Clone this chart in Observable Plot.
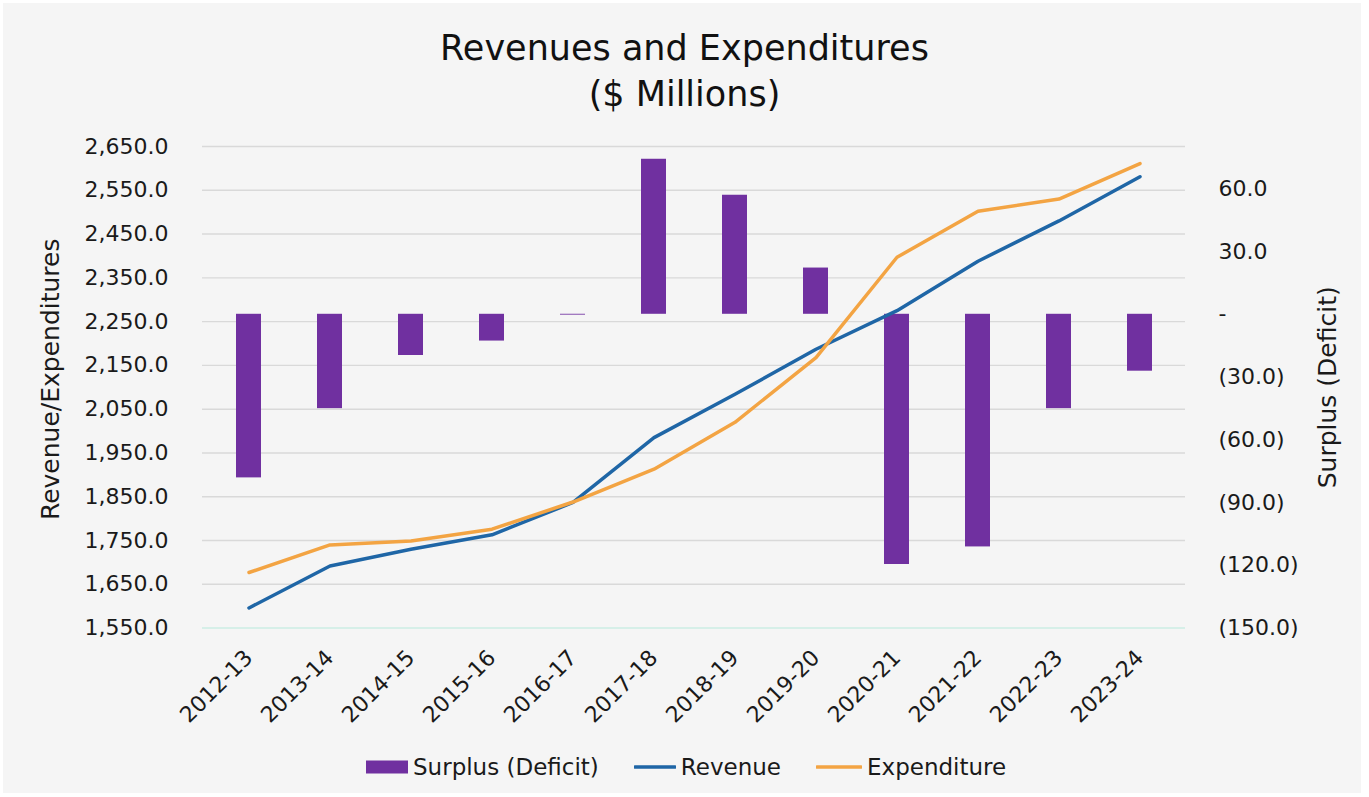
<!DOCTYPE html>
<html>
<head>
<meta charset="utf-8">
<script src="https://cdn.jsdelivr.net/npm/d3@7"></script>
<script src="https://cdn.jsdelivr.net/npm/@observablehq/plot@0.6"></script>
<style>
  html, body { margin: 0; padding: 0; background: #ffffff; }
  body { width: 1369px; height: 797px; position: relative; overflow: hidden; font-family: "DejaVu Sans", sans-serif; color: #1a1a1a; }
  #frame { position: absolute; left: 3px; top: 3px; width: 1358px; height: 790px; background: #f5f5f5; }
  #title { position: absolute; left: 0; top: 25px; width: 1369px; text-align: center; font-size: 35px; line-height: 46px; color: #111; }
  #chart { position: absolute; left: 0; top: 120px; }
  #legend { position: absolute; left: 366px; top: 752px; height: 30px; display: flex; align-items: center; font-size: 23px; color: #1a1a1a; }
  .item { display: flex; align-items: center; margin-right: 35px; }
  .sw { margin-right: 5px; }
</style>
</head>
<body>
<div id="frame"></div>
<div id="title">Revenues and Expenditures<br>($ Millions)</div>
<div id="chart"></div>
<div id="legend"></div>
<script>
// ---- data ----
const years = ["2012-13","2013-14","2014-15","2015-16","2016-17","2017-18","2018-19","2019-20","2020-21","2021-22","2022-23","2023-24"];
const surplus = [-78.2, -45.1, -19.7, -12.8, -0.4, 74.1, 56.9, 22.1, -119.6, -111.2, -45.1, -27.2];
const revenue = [1596, 1692, 1730, 1763, 1837, 1985, 2084, 2187, 2275, 2388, 2480, 2581];
const expenditure = [1677, 1740, 1749, 1776, 1838, 1913, 2020, 2168, 2397, 2502, 2530, 2611];
const leftTicks = [1550, 1650, 1750, 1850, 1950, 2050, 2150, 2250, 2350, 2450, 2550, 2650];
const rightTicks = [-150, -120, -90, -60, -30, 0, 30, 60];
const leftDomain = [1550, 2650];
const rightDomain = [-150, 80.2];
const seriesNames = ["Surplus (Deficit)", "Revenue", "Expenditure"];
const colors = {bar: "#7030a0", revenue: "#1f66a6", expenditure: "#f3a443"};

// map right-axis values onto the left (primary) y scale
const k = (leftDomain[1] - leftDomain[0]) / (rightDomain[1] - rightDomain[0]);
const toLeft = v => leftDomain[0] + (v - rightDomain[0]) * k;
const fromLeft = t => Math.round((t - leftDomain[0]) / k + rightDomain[0]);

const rows = years.map((y, i) => ({year: y, surplus: surplus[i], revenue: revenue[i], expenditure: expenditure[i]}));

const fmtLeft = d3.format(",.1f");
const fmtRight = t => {
  const v = fromLeft(t);
  if (v === 0) return "-";
  return v < 0 ? `(${(-v).toFixed(1)})` : v.toFixed(1);
};

const chart = Plot.plot({
  width: 1369,
  height: 625,
  marginTop: 26,
  marginBottom: 117.4,
  marginLeft: 202,
  marginRight: 184,
  style: {background: "transparent", fontFamily: "DejaVu Sans, sans-serif", fontSize: "22px", color: "#1a1a1a"},
  x: {type: "band", domain: years, paddingInner: 0.695, paddingOuter: 0.3475},
  y: {domain: leftDomain},
  marks: [
    Plot.gridY(leftTicks, {stroke: "#d9d9d9", strokeOpacity: 1, strokeWidth: 1.4}),
    Plot.ruleY([leftDomain[0]], {stroke: "#d6efe8", strokeWidth: 2}),
    Plot.barY(rows, {x: "year", y1: () => toLeft(0), y2: d => toLeft(d.surplus), fill: colors.bar}),
    Plot.line(rows, {x: "year", y: "revenue", stroke: colors.revenue, strokeWidth: 3.5, strokeLinejoin: "round", strokeLinecap: "round"}),
    Plot.line(rows, {x: "year", y: "expenditure", stroke: colors.expenditure, strokeWidth: 3.5, strokeLinejoin: "round", strokeLinecap: "round"}),
    Plot.axisY({anchor: "left", ticks: leftTicks, tickFormat: fmtLeft, tickSize: 0, tickPadding: 34, label: null, fontSize: 22}),
    Plot.axisY({anchor: "right", ticks: rightTicks.map(toLeft), tickFormat: fmtRight, tickSize: 0, tickPadding: 33, label: null, fontSize: 22}),
    Plot.axisX({tickRotate: -45, tickSize: 0, tickPadding: 26, label: null, fontSize: 22}),
    Plot.text(["Revenue/Expenditures"], {frameAnchor: "left", dx: -152, dy: -8, rotate: -90, fontSize: 25, textAnchor: "middle", lineAnchor: "middle", fill: "#1a1a1a"}),
    Plot.text(["Surplus (Deficit)"], {frameAnchor: "right", dx: 142, dy: 0, rotate: -90, fontSize: 25, textAnchor: "middle", lineAnchor: "middle", fill: "#1a1a1a"})
  ]
});
document.getElementById("chart").appendChild(chart);

// legend
const legend = document.getElementById("legend");
const swatches = [
  `<svg class="sw" width="42" height="14"><rect x="0" y="0.5" width="42" height="13" fill="${colors.bar}"/></svg>`,
  `<svg class="sw" width="42" height="14"><line x1="1" x2="41" y1="7" y2="7" stroke="${colors.revenue}" stroke-width="3.5" stroke-linecap="round"/></svg>`,
  `<svg class="sw" width="46" height="14"><line x1="1" x2="45" y1="7" y2="7" stroke="${colors.expenditure}" stroke-width="3.5" stroke-linecap="round"/></svg>`
];
seriesNames.forEach((name, i) => {
  const div = document.createElement("div");
  div.className = "item";
  div.innerHTML = swatches[i] + `<span>${name}</span>`;
  legend.appendChild(div);
});
</script>
</body>
</html>
